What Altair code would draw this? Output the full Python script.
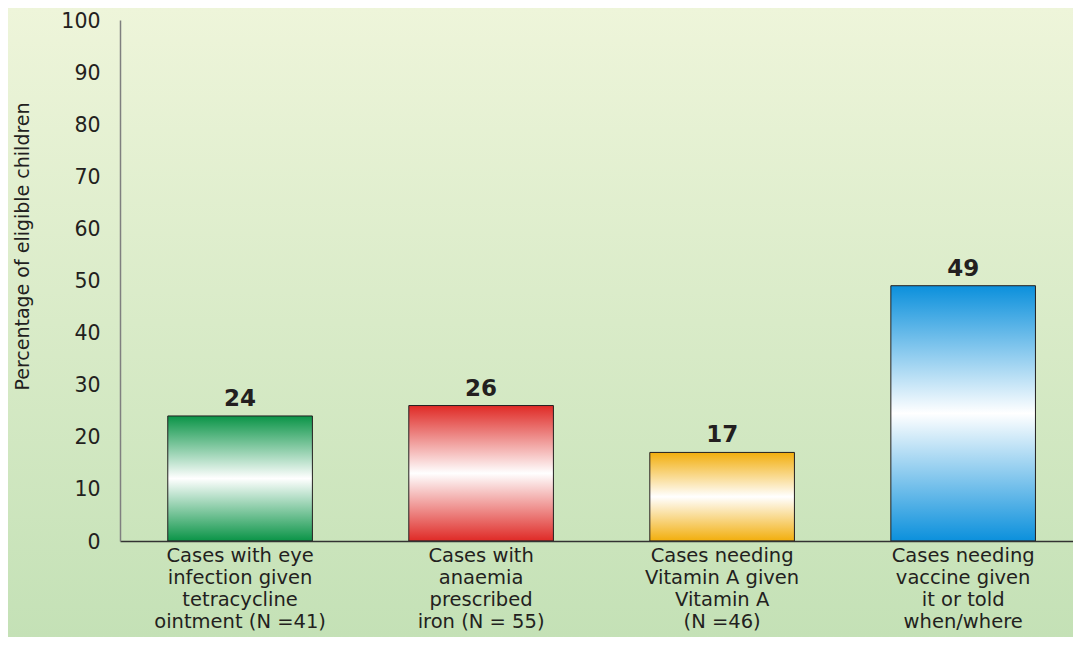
import altair as alt
import pandas as pd

categories = [
    "Cases with eye\ninfection given\ntetracycline\nointment (N =41)",
    "Cases with\nanaemia\nprescribed\niron (N = 55)",
    "Cases needing\nVitamin A given\nVitamin A\n(N =46)",
    "Cases needing\nvaccine given\nit or told\nwhen/where",
]
values = [24, 26, 17, 49]
bar_colors = ["#0a9447", "#df2a26", "#f2ae0c", "#0b90dc"]
y_ticks = list(range(0, 101, 10))
y_title = "Percentage of eligible children"

df = pd.DataFrame({"idx": list(range(len(categories))), "category": categories, "value": values})

FONT = "DejaVu Sans"
TXT = "#231f20"


def grad(c):
    return alt.LinearGradient(
        gradient="linear", x1=0, y1=0, x2=0, y2=1,
        stops=[
            alt.GradientStop(offset=0, color=c),
            alt.GradientStop(offset=0.5, color="#ffffff"),
            alt.GradientStop(offset=1, color=c),
        ],
    )


bg_grad = alt.LinearGradient(
    gradient="linear", x1=0, y1=0, x2=0, y2=1,
    stops=[
        alt.GradientStop(offset=0, color="#eef5da"),
        alt.GradientStop(offset=1, color="#c4e1b6"),
    ],
)

x_enc = alt.X(
    "category:N", sort=categories, title=None,
    scale=alt.Scale(paddingInner=0.4, paddingOuter=0.177, align=0.56),
    axis=alt.Axis(
        labelExpr="split(datum.label, '\\n')", labelAngle=0, labelFontSize=19.5,
        labelLineHeight=22, labelFont=FONT, labelColor=TXT,
        labelPadding=5, ticks=False, tickSize=0, domainColor="#333333", domainWidth=1.5,
        labelLimit=400, labelBaseline="top", zindex=2,
    ),
)

y_enc = alt.Y(
    "value:Q",
    scale=alt.Scale(domain=[0, 100], nice=False),
    axis=alt.Axis(
        values=y_ticks, title=y_title, grid=False, ticks=False, tickSize=0,
        labelPadding=20, labelFontSize=20.5, labelFont=FONT, labelColor=TXT,
        labelOffset=1,
        titleX=-98, titleY=226, titleAngle=270, titleAlign="center", titleBaseline="middle",
        titleFontSize=19, titleFontWeight="normal", titleFont=FONT,
        titleColor=TXT, domainColor="#7f7f7f", domainWidth=1.5, zindex=2,
    ),
)

bg = alt.Chart(pd.DataFrame({"a": [0]})).mark_rect(fill=bg_grad).encode(
    x=alt.value(-112), x2=alt.value(953), y=alt.value(-12), y2=alt.value(617)
)

bars = [
    alt.Chart(df)
    .transform_filter(alt.datum.idx == i)
    .mark_bar(fill=grad(c), stroke=TXT, strokeWidth=1)
    .encode(x=x_enc, y=y_enc)
    for i, c in enumerate(bar_colors)
]

labels = alt.Chart(df).mark_text(
    dy=-10, baseline="alphabetic", fontSize=23, fontWeight="bold", font=FONT, color=TXT
).encode(x=x_enc, y=y_enc, text="value:Q")

chart = (
    alt.layer(bg, *bars, labels)
    .properties(
        width=953, height=521,
        autosize=alt.AutoSizeParams(type="none"),
        padding={"left": 112, "top": 12, "right": 0, "bottom": 96},
        background="#d6eac6",
    )
    .configure_view(stroke=None)
)

chart.save("out.html", embed_options={"renderer": "svg", "actions": False})
